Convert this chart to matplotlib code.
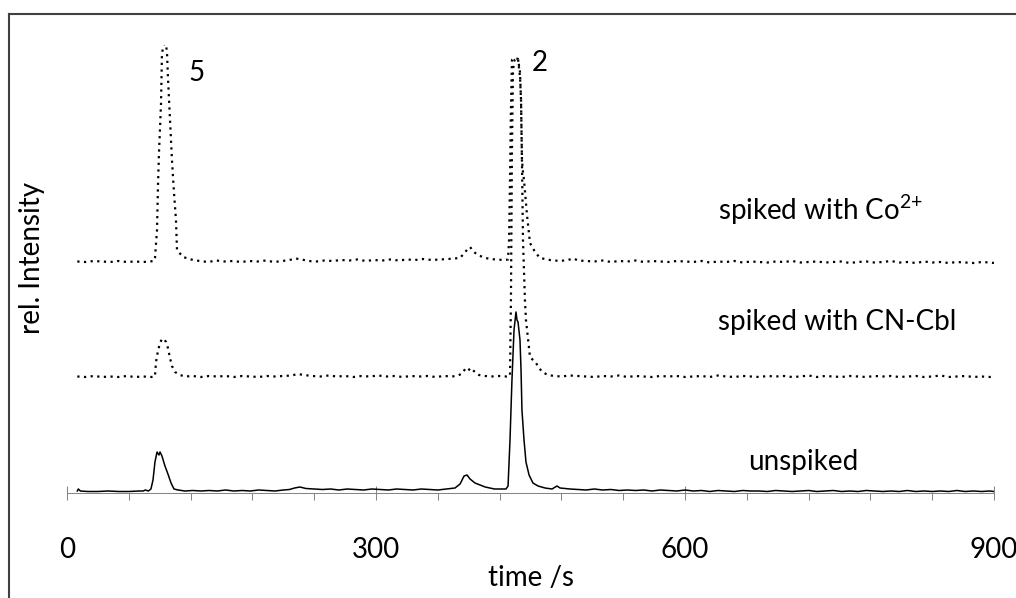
import matplotlib
matplotlib.use("Agg")
import numpy as np
from matplotlib import pyplot as plt
from matplotlib.ticker import MultipleLocator
from matplotlib.lines import Line2D

plt.rcParams['font.family'] = ['Lato', 'DejaVu Sans']
plt.rcParams['mathtext.fontset'] = 'custom'
plt.rcParams['mathtext.rm'] = 'Lato'
plt.rcParams['mathtext.it'] = 'Lato:italic'

# shared tail of the time axis (s)
tail_time = [496, 504, 512, 520, 528, 536, 544, 552, 560, 568,
             576, 584, 592, 600, 608, 616, 624, 632, 640, 648,
             656, 664, 672, 680, 688, 696, 704, 712, 720, 728,
             736, 744, 752, 760, 768, 776, 784, 792, 800, 808,
             816, 824, 832, 840, 848, 856, 864, 872, 880, 888,
             896, 900]

# unspiked (solid)
unsp_time = [10, 11, 13, 20, 30, 40, 50, 60, 70, 74,
             76, 79, 81.5, 83.5, 85.4, 87.4, 89.3, 90.3, 92.2, 95.1,
             98, 101, 103.9, 107.8, 114.6, 122, 130, 138, 146, 154,
             162, 170, 178, 186, 194, 202, 210, 216, 221, 226,
             232, 240, 248, 256, 264, 272, 280, 288, 296, 304,
             312, 320, 328, 336, 344, 352, 360, 368, 376.7, 381.6,
             385.5, 388.4, 391.3, 396.1, 401, 406, 410.7, 415, 420.4, 426.2,
             428.2, 430.1, 432, 434, 435.9, 436.9, 437.9, 439.8, 440.8, 441.7,
             443.7, 445.6, 448.6, 452.4, 457.3, 464.1, 470.9, 475.7, 478.7, 488.4]
unsp_int = [2, 4, 2, 1.5, 1.5, 2, 1.5, 1.5, 2, 2,
            3, 2, 4, 13, 31, 41, 38, 41, 37, 27,
            19, 10, 4, 3, 2, 2.5, 2, 2.5, 2, 3,
            2, 2.5, 2, 3, 2.5, 2, 3, 3.5, 5, 6,
            4.5, 4, 3.5, 4, 3, 4, 3.5, 3, 4, 3.5,
            3, 4, 3.5, 3, 4, 3.5, 3, 4, 5, 9,
            17, 18, 14, 10, 8, 6, 5, 4, 4, 4,
            7, 53, 113, 163, 181, 173, 171, 153, 123, 83,
            53, 31, 18, 10, 7, 5, 4, 7, 5, 4]
unsp_tail = [3.5, 3, 4, 3, 3.5, 2.5, 3, 2.5, 3, 2,
             3, 2.5, 2, 3, 2, 2.5, 1.5, 2.5, 2, 1.5,
             2.5, 2, 2, 1.5, 2.5, 2, 1.5, 2, 2.5, 1.5,
             2, 2.5, 1.5, 2, 1.5, 2.5, 2, 1.5, 2, 1.5,
             2.5, 1.5, 2, 1.5, 2, 1.5, 2.5, 1.5, 2, 1.5,
             2, 1.5]

# spiked with CN-Cbl (dotted)
cn_time = [10, 18, 26, 34, 42, 50, 58, 66, 74, 82,
           85.4, 86.4, 88.3, 90.3, 92.2, 94.2, 96.1, 98, 100, 101.9,
           104.9, 109.7, 114.6, 122, 130, 138, 146, 154, 162, 170,
           178, 186, 194, 202, 210, 218, 224, 230, 238, 246,
           254, 262, 270, 278, 286, 294, 302, 310, 318, 326,
           334, 342, 350, 358, 366, 374, 380, 384, 386.5, 389,
           392, 396, 400, 406, 412, 420, 427, 430.1, 431, 432,
           433, 434.5, 436.9, 437.9, 439.8, 440.8, 441.7, 442.7, 444.6, 445.6,
           449.5, 455.3, 461.2, 467, 473, 480, 488]
cn_int = [0.5, 0, 1, 0, 0.5, 0, 1, 0, 0.5, 0,
          0.5, 15, 26, 34, 38, 38, 35, 29, 19, 11,
          5, 2, 0.5, 1, 0, 1, 0.5, 1, 0, 1,
          0.5, 0, 1, 0.5, 1, 1.5, 3, 2, 1, 0.5,
          1.5, 0.5, 1, 0, 1, 0.5, 1.5, 0.5, 1, 0,
          1, 0.5, 1, 0, 1, 0.5, 1.5, 4, 8, 6,
          9, 5, 2, 1, 0.5, 1, 0.5, 1, 77, 227,
          307, 317, 319, 318, 300, 277, 217, 137, 77, 57,
          20, 14, 5, 2, 1, 0.5, 1.5]
cn_tail = [1, 0.5, 0, 1, 0.5, 1.5, 0, 1, 0.5, 0,
           1, 0.5, 1, 0, 0.5, 1, 0, 1.5, 0.5, 0,
           1, 0.5, 0, 1, 0.5, 1, 0, 0.5, 1.5, 0,
           1, 0.5, 0, 1, 0.5, 0, 1, 0.5, 1, 0,
           0.5, 1, 0, 0.5, 1.5, 0, 0.5, 1, 0, 0.5,
           0, 0.5]

# spiked with Co2+ (dotted)
co_time = [10, 18, 26, 34, 42, 50, 58, 66, 74, 80,
           84.5, 85.4, 87.4, 88.3, 89.3, 91.3, 92.2, 94.2, 96.1, 97.1,
           98, 100, 101.9, 103.9, 105.8, 106.8, 112.6, 122.3, 129, 137,
           145, 153, 161, 169, 177, 185, 193, 201, 209, 216,
           222, 228, 234, 242, 250, 258, 266, 274, 282, 290,
           298, 306, 314, 322, 330, 338, 346, 354, 362, 370,
           376, 381.6, 387.4, 391.3, 395.1, 399, 405.8, 415.5, 425, 428.2,
           429.2, 430.1, 431, 432, 434.9, 437.9, 439.8, 440.8, 441.7, 442.7,
           443.7, 446.6, 449.5, 454.4, 459.2, 468.9, 478.7, 486, 492]
co_int = [0.5, 0, 1, 0.5, 0, 1, 0, 0.5, 0, 0.5,
          1, 4, 32, 75, 109, 159, 209, 218, 218, 209,
          185, 142, 102, 69, 42, 12, 5, 2, 1, 0,
          1.5, 0.5, 1, 0, 1, 0.5, 1.5, 0, 1, 2,
          3.5, 2.5, 1, 0.5, 1.5, 1, 2, 1.5, 2.5, 1,
          2, 1.5, 2.5, 1.5, 2.5, 2, 3, 2, 2.5, 3,
          3.5, 4, 11, 15, 10, 7, 4, 2.5, 2, 2.5,
          22, 82, 152, 202, 204, 203, 190, 162, 102, 90,
          82, 47, 19, 10, 4, 2, 1, 2, 3.5]
co_tail = [1.5, 1, 0.5, 1.5, 0, 1, 0.5, 1.5, 0, 1,
           0.5, 0, 1, 0.5, 0, 1, -0.5, 0.5, 0, 1,
           -0.5, 0.5, 0, -0.5, 0.5, 0, 1, -0.5, 0, 0.5,
           -0.5, 0, 0.5, -1, 0, 0.5, -0.5, 0, 1, -0.5,
           0, -1, 0.5, -0.5, 0, -1, 0, -0.5, -1, 0,
           -0.5, -1]

# vertical stacking of the traces
off_cn = 116
off_co = 231

fig = plt.figure(figsize=(10.16, 5.98), dpi=100)
ax = fig.add_axes([67/1016, 1-493/598, 927/1016, 448/598])

t = np.array(unsp_time + tail_time)
ax.plot(t, np.array(unsp_int + unsp_tail), color='black', lw=1.1)
t = np.array(cn_time + tail_time)
ax.plot(t, np.array(cn_int + cn_tail) + off_cn, color='black', lw=1.6, ls=(0, (1, 2)))
t = np.array(co_time + tail_time)
ax.plot(t, np.array(co_int + co_tail) + off_co, color='black', lw=1.6, ls=(0, (1, 2)))

ax.set_xlim(0, 900)
ax.set_ylim(0, 448)
ax.set_yticks([])
ax.set_xticks([0, 300, 600, 900])
ax.xaxis.set_minor_locator(MultipleLocator(60))
for s in ['top', 'right', 'left']:
    ax.spines[s].set_visible(False)
ax.spines['bottom'].set_color('#868686')
ax.spines['bottom'].set_linewidth(0.75)
ax.tick_params(axis='x', which='major', direction='inout', length=10, width=0.75,
               color='#868686', pad=27, labelsize=20)
ax.tick_params(axis='x', which='minor', direction='out', length=5, width=0.75,
               color='#868686')

ax.set_xlabel('time /s', fontsize=20, va='center')
ax.xaxis.set_label_coords(0.5, -0.19)
ax.set_ylabel('rel. Intensity', fontsize=20, va='center', ha='center')
ax.yaxis.set_label_coords(-0.038, 0.525)

ax.text(126, 420, '5', fontsize=20, ha='center', va='center')
ax.text(459, 430, '2', fontsize=20, ha='center', va='center')
ax.text(632, 283, r'spiked with Co$^{\text{2+}}$', fontsize=20, ha='left', va='center')
ax.text(632, 171, 'spiked with CN-Cbl', fontsize=20, ha='left', va='center')
ax.text(661, 31, 'unspiked', fontsize=20, ha='left', va='center')

# outer frame
fig.add_artist(Line2D([9/1016, 9/1016], [0, 1-14/598], color='#404040', lw=1.5))
fig.add_artist(Line2D([9/1016, 1], [1-14/598, 1-14/598], color='#404040', lw=1.5))

fig.savefig('out.png', dpi=100)
